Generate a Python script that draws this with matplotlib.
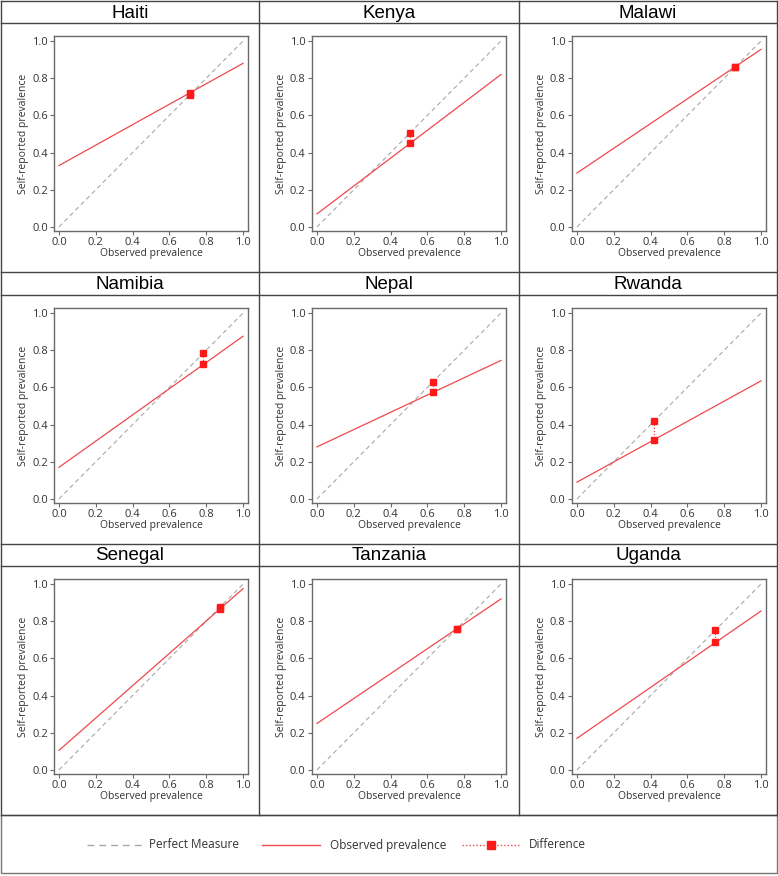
import numpy as np
import matplotlib
matplotlib.use("Agg")
import matplotlib.pyplot as plt
from matplotlib.lines import Line2D
from matplotlib.patches import Rectangle

# values
countries = ["Haiti", "Kenya", "Malawi",
             "Namibia", "Nepal", "Rwanda",
             "Senegal", "Tanzania", "Uganda"]
fit_at_0 = [0.33, 0.07, 0.29, 0.17, 0.28, 0.09, 0.105, 0.25, 0.17]
fit_at_1 = [0.88, 0.82, 0.955, 0.875, 0.745, 0.635, 0.975, 0.92, 0.855]
observed = [0.71, 0.505, 0.86, 0.785, 0.63, 0.42, 0.875, 0.76, 0.75]
self_reported = [0.72, 0.45, 0.862, 0.725, 0.577, 0.318, 0.865, 0.76, 0.686]
ticks = [0.0, 0.2, 0.4, 0.6, 0.8, 1.0]

W, H = 778, 876
RED = "#f0484c"
GREY = "#a8a8a8"
FRAME = "#6a6a6a"
TXT = "#333333"
tick_font = "Open Sans"

fig = plt.figure(figsize=(W / 100, H / 100), dpi=100)
fig.patch.set_facecolor("white")


def fx(px):
    return px / W


def fy(py):
    return 1 - py / H


def hline(y, x0, x1, color="#555555", lw=1.0):
    fig.add_artist(Line2D([fx(x0), fx(x1)], [fy(y), fy(y)], color=color, lw=lw,
                          transform=fig.transFigure))


def vline(x, y0, y1, color="#555555", lw=1.0):
    fig.add_artist(Line2D([fx(x), fx(x)], [fy(y0), fy(y1)], color=color, lw=lw,
                          transform=fig.transFigure))


col_edges = [1, 259, 519, 777]
bands = [(1, 23), (272, 295), (544, 566)]

# grid of panels
for r in range(3):
    t0, t1 = bands[r]
    hline(t0, 1, 777, color="#444444")
    hline(t1, 1, 777, color="#444444")
for x in col_edges:
    vline(x, 1, 815, color="#444444")

for i, name in enumerate(countries):
    r, c = divmod(i, 3)
    left = col_edges[c]
    t0, t1 = bands[r]
    fig.text(fx((col_edges[c] + col_edges[c + 1]) / 2), fy((t0 + t1) / 2 + 1), name,
             ha="center", va="center", fontsize=13.5, family="Liberation Sans",
             color="black")

    ax_l = left + 53
    ax_t = t1 + 13
    ax = fig.add_axes([fx(ax_l), fy(ax_t + 195), 194 / W, 195 / H])
    ax.set_facecolor("white")

    xs = np.array([0.0, 1.0])
    ax.plot(xs, xs, color=GREY, lw=0.8, dashes=(4, 3))
    ax.plot(xs, [fit_at_0[i], fit_at_1[i]], color=RED, lw=0.9)
    ax.plot([observed[i], observed[i]], [observed[i], self_reported[i]],
            color=RED, lw=0.9, ls=(0, (1, 1.5)), marker="s", markersize=4,
            markerfacecolor="#ff1a1a", markeredgecolor="#ff1a1a")

    ax.set_xlim(-0.027, 1.027)
    ax.set_ylim(-0.022, 1.027)
    ax.set_xticks(ticks)
    ax.set_yticks(ticks)
    ax.set_xticklabels([f"{t:.1f}" for t in ticks])
    ax.set_yticklabels([f"{t:.1f}" for t in ticks])
    for s in ax.spines.values():
        s.set_color(FRAME)
        s.set_linewidth(1.0)
    ax.tick_params(length=3, width=0.8, color=FRAME, labelsize=8,
                   labelcolor=TXT, pad=1.5)
    for lab in ax.get_xticklabels() + ax.get_yticklabels():
        lab.set_family(tick_font)
    ax.set_xlabel("Observed prevalence", fontsize=7.5, family=tick_font,
                  color=TXT, labelpad=0)
    ax.set_ylabel("Self-reported prevalence", fontsize=7.5, family=tick_font,
                  color=TXT, labelpad=2)

# legend box
fig.add_artist(Rectangle((fx(1), fy(873)), fx(776), (873 - 815) / H, fill=False,
                         edgecolor="#777777", lw=1.0, transform=fig.transFigure))
hline(815, 1, 777, color="#444444")

ly = fy(845)
fig.add_artist(Line2D([fx(87), fx(144)], [ly, ly], color=GREY, lw=1.0,
                      dashes=(5, 3.5), transform=fig.transFigure))
fig.text(fx(149), ly, "Perfect Measure", ha="left", va="center", fontsize=8.5,
         family=tick_font, color=TXT)
fig.add_artist(Line2D([fx(262), fx(320)], [ly, ly], color=RED, lw=1.0,
                      transform=fig.transFigure))
fig.text(fx(330), ly, "Observed prevalence", ha="left", va="center", fontsize=8.5,
         family=tick_font, color=TXT)
fig.add_artist(Line2D([fx(462), fx(519)], [ly, ly], color=RED, lw=1.0,
                      ls=(0, (1, 1.5)), transform=fig.transFigure))
fig.add_artist(Line2D([fx(490.5)], [ly], color="#ff1a1a", marker="s",
                      markersize=5.5, lw=0, transform=fig.transFigure))
fig.text(fx(529), ly, "Difference", ha="left", va="center", fontsize=8.5,
         family=tick_font, color=TXT)

fig.savefig("out.png", dpi=100, facecolor="white")
